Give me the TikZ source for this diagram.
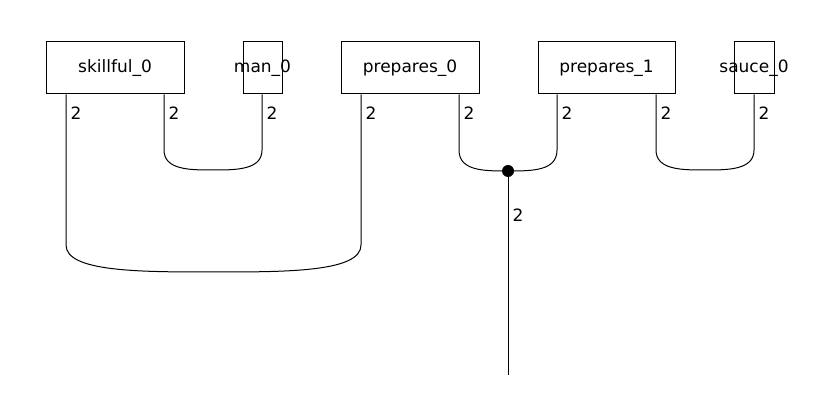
\documentclass[tikz,border=0pt]{standalone}
\usepackage{fontspec}
\setmainfont{DejaVu Sans}
\usetikzlibrary{positioning}

\begin{document}
\begin{tikzpicture}[x=1pt, y=-1pt, line width=1pt,
		box/.style={draw, rectangle, minimum height=52pt, inner sep=0pt, font=\fontsize{17}{20}\selectfont},
		dim/.style={font=\fontsize{17}{20}\selectfont, inner sep=0pt, anchor=west}]
		% Canvas
		\useasboundingbox (0,0) rectangle (819,419);
		
		% Nodes
		\node (skillful) [box, minimum width=138pt] at (115,68) {\makebox[0pt]{skillful\_0}};
		\node (man) [box, minimum width=39pt] at (262.5,68) {\makebox[0pt]{man\_0}};
		\node (prep0) [box, minimum width=138pt] at (410,68) {\makebox[0pt]{prepares\_0}};
		\node (prep1) [box, minimum width=137pt] at (606.5,68) {\makebox[0pt]{prepares\_1}};
		\node (sauce) [box, minimum width=40pt] at (754,68) {\makebox[0pt]{sauce\_0}};
		
		% Ports
		\coordinate (s1) at (skillful.south -| 66,0);
		\coordinate (s2) at (skillful.south -| 164,0);
		\coordinate (m1) at (man.south -| 262,0);
		\coordinate (p1) at (prep0.south -| 361,0);
		\coordinate (p2) at (prep0.south -| 459,0);
		\coordinate (q1) at (prep1.south -| 557,0);
		\coordinate (q2) at (prep1.south -| 656,0);
		\coordinate (c1) at (sauce.south -| 754,0);
		\node (dot) [circle, fill, inner sep=0pt, minimum size=12pt] at (508,171) {};
		\coordinate (out) at (508,375);
		
		% Edges
		\draw (s1) -- (66,245) .. controls (66,272) and (140,272) .. (213.5,272)
			.. controls (287,272) and (361,272) .. (361,245) -- (p1);
		\draw (s2) -- (164,150) .. controls (164,170) and (190,170) .. (213,170)
			.. controls (236,170) and (262,170) .. (262,150) -- (m1);
		\draw (q2) -- (656,150) .. controls (656,170) and (682,170) .. (705,170)
			.. controls (728,170) and (754,170) .. (754,150) -- (c1);
		\draw (p2) -- (459,150) .. controls (459,171) and (484,171) .. (dot.center);
		\draw (q1) -- (557,150) .. controls (557,171) and (532,171) .. (dot.center);
		\draw (dot) -- (out);
		
		% Labels
		\foreach \x in {66,164,262,361,459,557,656,754}
			\node[dim] at (\x+4,113) {2};
		\node[dim] at (512,215) {2};
	\end{tikzpicture}
\end{document}
